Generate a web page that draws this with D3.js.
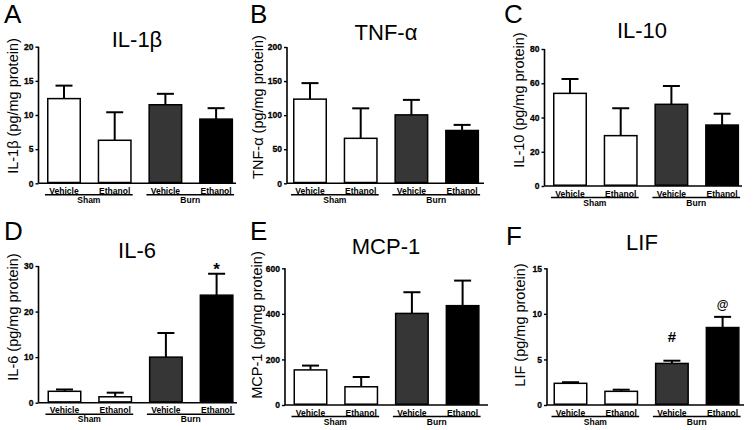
<!DOCTYPE html>
<html><head><meta charset="utf-8">
<script src="https://cdn.jsdelivr.net/npm/d3@7"></script>
<style>body{margin:0;background:#fff}svg{display:block}</style>
</head><body>
<svg id="c" width="754" height="430"></svg>
<script>
// ---- data ----
const panelLetters = ["A","B","C","D","E","F"];
const titles = ["IL-1β","TNF-α","IL-10","IL-6","MCP-1","LIF"];
const yTitles = ["IL-1β (pg/mg protein)","TNF-α (pg/mg protein)","IL-10 (pg/mg protein)",
                 "IL-6 (pg/mg protein)","MCP-1 (pg/mg protein)","LIF (pg/mg protein)"];
const categories = ["Vehicle","Ethanol","Vehicle","Ethanol"];
const groups = ["Sham","Burn"];
const il1b = [12.4, 6.3, 11.5, 9.4];     const il1bSem = [1.9, 4.1, 1.6, 1.6];
const tnf  = [123.5, 66, 100.4, 77.5];   const tnfSem  = [23.5, 44, 22, 8.2];
const il10 = [54.1, 29.4, 47.7, 35.6];   const il10Sem = [8.4, 16, 10.7, 6.6];
const il6  = [2.5, 1.3, 10.0, 23.6];     const il6Sem  = [0.4, 0.9, 5.3, 4.7];
const mcp1 = [154, 80, 402, 436];        const mcp1Sem = [19, 43, 93, 110];
const lif  = [2.38, 1.5, 4.56, 8.5];     const lifSem  = [0.12, 0.18, 0.3, 1.17];
const yMax = [20, 200, 80, 30, 600, 15];
const tickStep = [5, 50, 20, 10, 200, 5];
const il6Marks = ["", "", "", "*"];
const lifMarks = ["", "", "#", "@"];
const noMarks = ["", "", "", ""];

const means = [il1b, tnf, il10, il6, mcp1, lif];
const sems = [il1bSem, tnfSem, il10Sem, il6Sem, mcp1Sem, lifSem];
const marks = [noMarks, noMarks, noMarks, il6Marks, noMarks, lifMarks];
const fills = ["#ffffff", "#ffffff", "#363636", "#000000"];

// ---- layout ----
const layout = [
  {ax:38.5, b0:47,   yTop:46.7, y0:183.3, xEnd:236, lx:4,   ly:23,  tx:137, ty:47,  ytx:13,  yty:106},
  {ax:287,  b0:293,  yTop:47,   y0:183.3, xEnd:484, lx:250, ly:23,  tx:386, ty:40,  ytx:258, yty:107},
  {ax:544.5,b0:553,  yTop:49,   y0:186,   xEnd:742, lx:504, ly:23,  tx:642, ty:38,  ytx:519, yty:100},
  {ax:38.5, b0:47.5, yTop:266,  y0:402.7, xEnd:237, lx:4,   ly:240, tx:137, ty:258, ytx:13,  yty:317},
  {ax:285,  b0:293.5,yTop:268.3,y0:405,   xEnd:488, lx:250, ly:240, tx:386, ty:254, ytx:257, yty:325},
  {ax:547,  b0:553.5,yTop:268.3,y0:405,   xEnd:744, lx:506, ly:245, tx:642, ty:250, ytx:520, yty:325}
];
const step = 50.7, bw = 34;

const svg = d3.select("#c");
const font = "'Liberation Sans', Arial, sans-serif";

layout.forEach((L, p) => {
  const g = svg.append("g");
  const x = d3.scaleBand().domain(d3.range(4))
    .range([L.b0, L.b0 + 4 * step - (step - bw)])
    .paddingInner((step - bw) / step).paddingOuter(0);
  const y = d3.scaleLinear().domain([0, yMax[p]]).range([L.y0, L.yTop]);

  // panel letter
  g.append("text").attr("x", L.lx).attr("y", L.ly).text(panelLetters[p])
    .attr("font-family", font).attr("font-size", 26).attr("fill", "#000");
  // title
  g.append("text").attr("x", L.tx).attr("y", L.ty).attr("text-anchor", "middle")
    .text(titles[p]).attr("font-family", font).attr("font-size", 22).attr("fill", "#000");
  // y title
  g.append("text").attr("transform", `translate(${L.ytx},${L.yty}) rotate(-90)`)
    .attr("text-anchor", "middle").attr("dominant-baseline", "central")
    .text(yTitles[p]).attr("font-family", font).attr("font-size", 14.5).attr("fill", "#000");

  // y axis
  const ticks = d3.range(0, yMax[p] + 1e-9, tickStep[p]);
  const yAxis = d3.axisLeft(y).tickValues(ticks).tickSize(3).tickPadding(2).tickFormat(d3.format("d"));
  const ya = g.append("g").attr("transform", `translate(${L.ax},0)`).call(yAxis);
  ya.select(".domain").attr("stroke", "#000").attr("stroke-width", 1.6)
    .attr("d", `M0,${L.y0}V${L.yTop}`);
  ya.selectAll(".tick line").attr("stroke", "#000").attr("stroke-width", 1.4);
  ya.selectAll(".tick text").attr("font-family", font).attr("font-weight", "bold")
    .attr("font-size", 8.5).attr("fill", "#000").attr("stroke", "#000").attr("stroke-width", 0.3);

  // x axis line
  g.append("line").attr("x1", L.ax).attr("x2", L.xEnd).attr("y1", L.y0).attr("y2", L.y0)
    .attr("stroke", "#000").attr("stroke-width", 1.6);

  // error bars
  const m = means[p], s = sems[p];
  m.forEach((v, i) => {
    const cx = x(i) + x.bandwidth() / 2;
    g.append("line").attr("x1", cx).attr("x2", cx).attr("y1", y(v)).attr("y2", y(v + s[i]))
      .attr("stroke", "#000").attr("stroke-width", 2);
    g.append("line").attr("x1", cx - 8.5).attr("x2", cx + 8.5).attr("y1", y(v + s[i])).attr("y2", y(v + s[i]))
      .attr("stroke", "#000").attr("stroke-width", 2);
  });
  // bars
  g.selectAll("rect.bar").data(m).join("rect").attr("class", "bar")
    .attr("x", (d, i) => x(i) + 0.75).attr("width", x.bandwidth() - 1.5)
    .attr("y", d => y(d)).attr("height", d => L.y0 - y(d) - 0.8)
    .attr("fill", (d, i) => fills[i]).attr("stroke", "#000").attr("stroke-width", 1.5);

  // significance marks
  marks[p].forEach((mk, i) => {
    if (!mk) return;
    const cx = x(i) + x.bandwidth() / 2;
    const top = y(m[i] + s[i]);
    let base, fs;
    if (mk === "*") { base = top + 1; fs = 17; }
    else if (mk === "#") { base = top - 18.5; fs = 15; }
    else { base = top - 7.5; fs = 12; }
    g.append("text").attr("x", cx).attr("y", base).attr("text-anchor", "middle")
      .text(mk).attr("font-family", font).attr("font-weight", "bold").attr("font-size", fs).attr("fill", "#000");
  });

  // category labels
  categories.forEach((c, i) => {
    g.append("text").attr("x", x(i) + x.bandwidth() / 2).attr("y", L.y0 + 10.5)
      .attr("text-anchor", "middle").text(c)
      .attr("font-family", font).attr("font-weight", "bold").attr("font-size", 8.5).attr("fill", "#000");
  });
  // group underlines + labels
  groups.forEach((gr, k) => {
    const a = x(2 * k) - 2, b = x(2 * k + 1) + x.bandwidth() + 1;
    g.append("line").attr("x1", a).attr("x2", b).attr("y1", L.y0 + 11.5).attr("y2", L.y0 + 11.5)
      .attr("stroke", "#000").attr("stroke-width", 1.5);
    g.append("text").attr("x", (a + b) / 2).attr("y", L.y0 + 19.5).attr("text-anchor", "middle").text(gr)
      .attr("font-family", font).attr("font-weight", "bold").attr("font-size", 8.5).attr("fill", "#000");
  });
});
</script>
</body></html>
